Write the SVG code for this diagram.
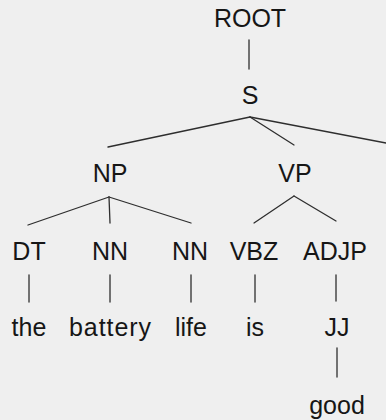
<svg xmlns="http://www.w3.org/2000/svg" width="386" height="420" viewBox="0 0 386 420">
<style>
text{font-family:"Liberation Sans",Arial,sans-serif;font-size:25px;fill:#161616;text-anchor:middle}
.e line{stroke:#2e2e2e;stroke-width:1.3;stroke-linecap:round}
</style>
<rect width="386" height="420" fill="#efefef"/>
<g class="e" id="connectors">
<line x1="249" y1="40" x2="249" y2="69"/>
<line x1="250" y1="117" x2="108" y2="147"/>
<line x1="250" y1="117" x2="294" y2="145"/>
<line x1="250" y1="117" x2="386" y2="143"/>
<line x1="109" y1="197" x2="28" y2="225"/>
<line x1="109" y1="197" x2="110" y2="223"/>
<line x1="109" y1="197" x2="191" y2="223"/>
<line x1="294" y1="196" x2="254" y2="223"/>
<line x1="294" y1="196" x2="336" y2="221"/>
<line x1="29" y1="275" x2="29" y2="302"/>
<line x1="110" y1="275" x2="110" y2="302"/>
<line x1="191" y1="275" x2="191" y2="302"/>
<line x1="255" y1="275" x2="255" y2="302"/>
<line x1="336" y1="275" x2="336" y2="301"/>
<line x1="337" y1="348" x2="337" y2="377"/>
</g>
<g id="n-root"><text x="250" y="27">ROOT</text></g>
<g id="n-s"><text x="250" y="104">S</text></g>
<g id="n-np"><text x="110" y="182">NP</text></g>
<g id="n-vp"><text x="295" y="182">VP</text></g>
<g id="n-dt"><text x="29" y="260">DT</text></g>
<g id="n-nn1"><text x="110" y="260">NN</text></g>
<g id="n-nn2"><text x="190" y="260">NN</text></g>
<g id="n-vbz"><text x="254" y="260">VBZ</text></g>
<g id="n-adjp"><text x="335" y="260">ADJP</text></g>
<g id="n-the"><text x="29" y="336">the</text></g>
<g id="n-battery"><text x="110" y="336" textLength="82">battery</text></g>
<g id="n-life"><text x="191" y="336">life</text></g>
<g id="n-is"><text x="255" y="336">is</text></g>
<g id="n-jj"><text x="337" y="336">JJ</text></g>
<g id="n-good"><text x="337" y="414">good</text></g>
</svg>
